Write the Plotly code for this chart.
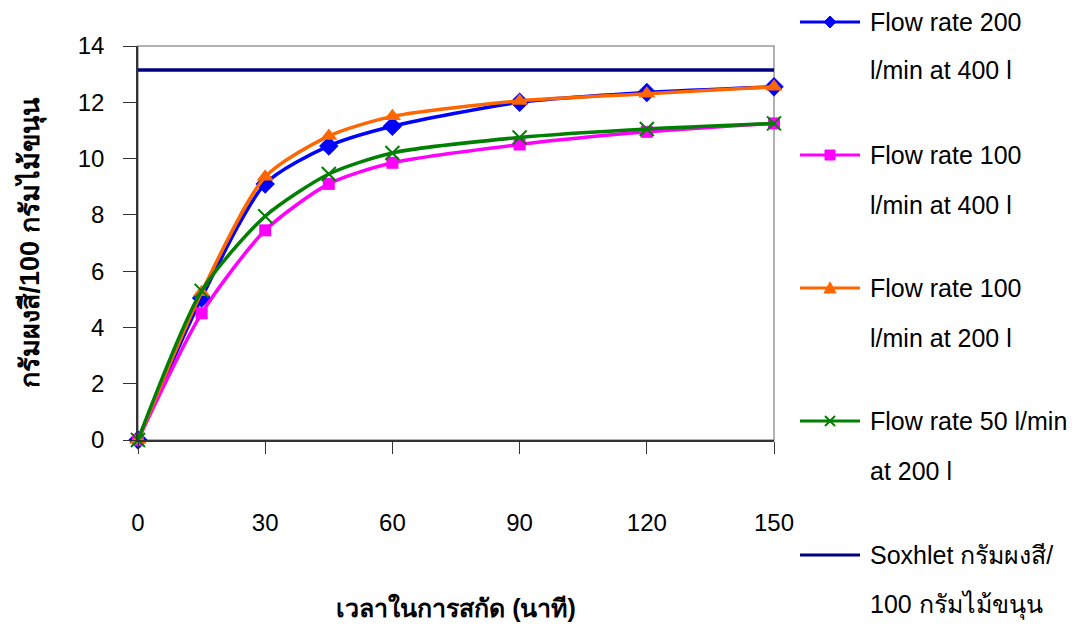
import plotly.graph_objects as go

time_min = [0, 15, 30, 45, 60, 90, 120, 150]
flow200_400 = [0, 5.05, 9.1, 10.45, 11.15, 12.0, 12.35, 12.55]
flow100_400 = [0, 4.5, 7.45, 9.1, 9.85, 10.5, 10.95, 11.25]
flow100_200 = [0, 5.25, 9.35, 10.8, 11.5, 12.05, 12.3, 12.55]
flow50_200 = [0, 5.3, 7.95, 9.45, 10.2, 10.75, 11.05, 11.25]
soxhlet = [13.15] * 8

legend_lines = [
    ("Flow rate 200", "l/min at 400 l"),
    ("Flow rate 100", "l/min at 400 l"),
    ("Flow rate 100", "l/min at 200 l"),
    ("Flow rate 50 l/min", "at 200 l"),
    ("Soxhlet กรัมผงสี/", "100 กรัมไม้ขนุน"),
]
x_ticks = [0, 30, 60, 90, 120, 150]
y_title = "กรัมผงสี/100 กรัมไม้ขนุน"
x_title = "เวลาในการสกัด (นาที)"

FONT = "Liberation Sans, Arial, sans-serif"

# plot area in pixels (used for layout placement only)
L, R, T, B = 138, 774, 46, 440
W, H = 1084, 630


def px(x):
    return (x - L) / (R - L)


def py(y):
    return (B - y) / (B - T)


colors = ["#0000FF", "#FF00FF", "#FF6600", "#008000", "#000080"]
markers = [
    dict(symbol="diamond", size=15, color=colors[0]),
    dict(symbol="square", size=12, color=colors[1]),
    dict(symbol="triangle-up", size=15, color=colors[2]),
    dict(symbol="x-thin", size=14, color=colors[3], line=dict(color=colors[3], width=2)),
    None,
]
# legend glyph outlines (pixel offsets around the symbol centre)
legend_paths = [
    ("M0,6 L6,0 L0,-6 L-6,0 Z", True),
    ("M-5,-5 L5,-5 L5,5 L-5,5 Z", True),
    ("M-6,-5 L6,-5 L0,6 Z", True),
    ("M-5,-5 L5,5 M-5,5 L5,-5", False),
    (None, False),
]
series = [flow200_400, flow100_400, flow100_200, flow50_200]

fig = go.Figure()
for i, vals in enumerate(series):
    fig.add_trace(go.Scatter(
        x=time_min, y=vals, name=legend_lines[i][0] + " " + legend_lines[i][1],
        mode="lines+markers",
        line=dict(color=colors[i], width=3.5, shape="spline", smoothing=0.7),
        marker=markers[i], cliponaxis=False, showlegend=False))
fig.add_trace(go.Scatter(
    x=time_min, y=soxhlet, name=legend_lines[4][0] + legend_lines[4][1], mode="lines",
    line=dict(color=colors[4], width=3.5), cliponaxis=False, showlegend=False))

fig.add_shape(type="rect", xref="paper", yref="paper", x0=0, x1=1, y0=0, y1=1,
              line=dict(color="#999999", width=1.5), layer="below")

# manual legend (placed in the right margin)
leg_y1 = [22, 155, 288, 421, 555]
leg_y2 = [70, 205, 338, 471, 605]
for i, (l1, l2) in enumerate(legend_lines):
    fig.add_shape(type="line", xref="paper", yref="paper",
                  x0=px(800), x1=px(860), y0=py(leg_y1[i]), y1=py(leg_y1[i]),
                  line=dict(color=colors[i], width=3))
    path, filled = legend_paths[i]
    if path is not None:
        fig.add_shape(type="path", xref="paper", yref="paper",
                      xsizemode="pixel", ysizemode="pixel",
                      xanchor=px(830), yanchor=py(leg_y1[i]), path=path,
                      fillcolor=colors[i] if filled else "rgba(0,0,0,0)",
                      line=dict(color=colors[i], width=2 if not filled else 1))
    for txt, yy in ((l1, leg_y1[i]), (l2, leg_y2[i])):
        fig.add_annotation(xref="paper", yref="paper", x=px(868), y=py(yy),
                           xanchor="left", yanchor="middle", text=txt, showarrow=False,
                           font=dict(family=FONT, size=25, color="black"))

fig.update_layout(
    width=W, height=H,
    margin=dict(l=L, r=W - R, t=T, b=H - B),
    plot_bgcolor="white", paper_bgcolor="white",
    font=dict(family=FONT, size=24, color="black"),
    showlegend=False,
    xaxis=dict(range=[0, 150], tickvals=x_ticks, ticktext=[str(v) for v in x_ticks],
               showgrid=False, zeroline=False, showline=True, linecolor="#333333",
               linewidth=1.5, ticks="outside", ticklen=12, tickcolor="#333333",
               ticklabelstandoff=48, automargin=False,
               tickfont=dict(family=FONT, size=24),
               title=dict(text="<b>" + x_title + "</b>", standoff=65,
                          font=dict(family=FONT, size=25))),
    yaxis=dict(range=[0, 14], dtick=2, showgrid=False, zeroline=False, showline=True,
               linecolor="#333333", linewidth=1.5, ticks="outside", ticklen=13,
               tickcolor="#333333", ticklabelstandoff=14, automargin=False,
               tickfont=dict(family=FONT, size=24),
               title=dict(text="<b>" + y_title + "</b>", standoff=30,
                          font=dict(family=FONT, size=27))),
)

fig.write_html("out.html")
